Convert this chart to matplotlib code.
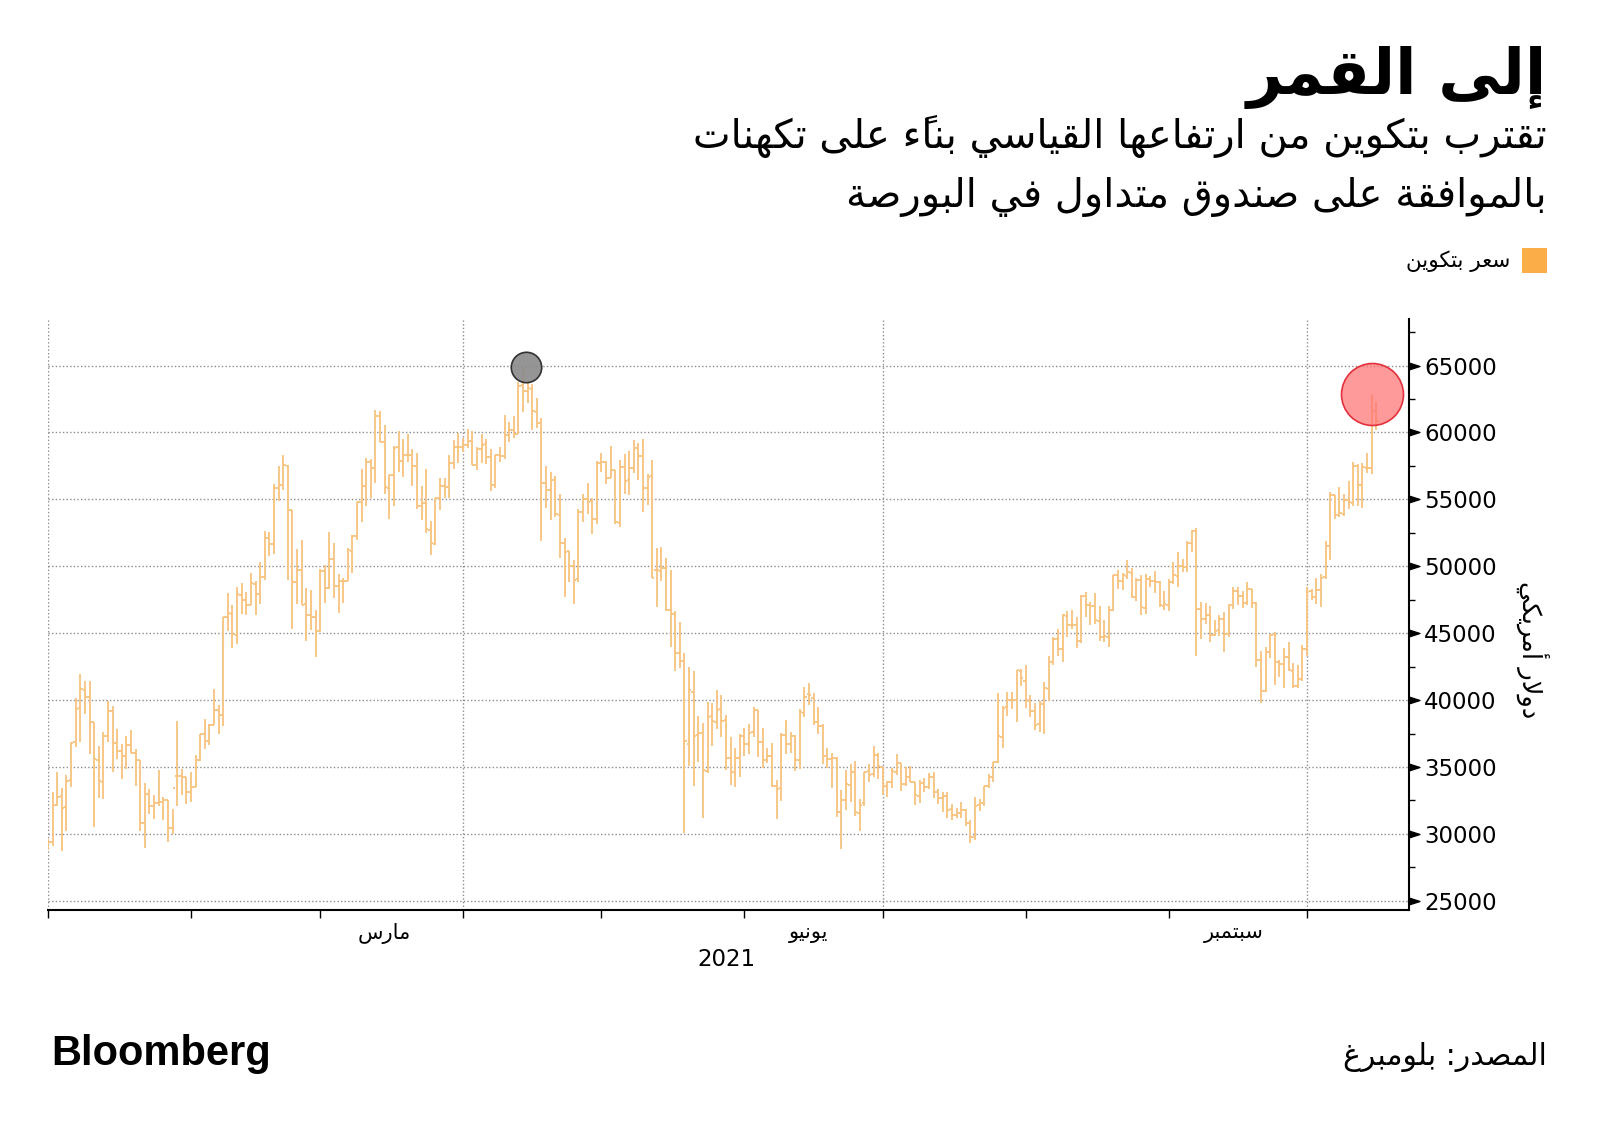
import numpy as np
import pandas as pd
import matplotlib
matplotlib.use("Agg")
import matplotlib.pyplot as plt
import matplotlib.dates as mdates
from matplotlib.path import Path
from matplotlib.ticker import MultipleLocator, FixedLocator, NullFormatter

plt.rcParams['font.family'] = ['DejaVu Sans']

# ---------------- data (daily OHLC, USD) ----------------
start_date = "2021-01-01"
opens = [
    # Jan
    28994,29376,32130,32810,31977,34013,36833,39381,40788,40254,38346,35516,33915,37325,39156,36821,36163,35792,36642,36050,35549,30817,32985,32064,32285,32358,32564,30441,34318,34295,34270,
    # Feb
    33115,33533,35510,37475,36931,38138,39250,38887,46184,46469,44898,47877,47491,47114,48696,47944,49207,52141,51675,55887,56068,57532,54204,48835,49709,47180,46344,46194,
    # Mar
    45159,49612,48415,50522,48527,48899,48918,51174,52272,54824,55963,57821,57343,61221,59267,55841,56826,58893,57851,58332,58309,57517,54511,54710,52726,51683,55137,55974,55948,57750,58930,
    # Apr
    58926,59098,59397,57604,58760,59171,58186,56099,58326,58253,59846,60175,59890,63523,63075,63258,61529,60701,56191,55681,56471,53857,51739,51143,50052,49077,54030,55036,54858,53568,
    # May
    57714,57825,56620,57214,53252,57441,56413,57352,58877,58250,55847,56714,49735,49682,49855,46716,46415,43489,42944,36753,40596,37371,37532,34700,38795,38392,39316,38507,35684,34607,35659,
    # Jun
    37293,36699,37600,39242,36880,35538,35835,33589,33416,37389,36697,37340,35555,39016,40427,40168,38341,38099,35854,35563,35641,31622,32515,33682,34659,31594,32287,34679,34475,35908,
    # Jul
    35035,33549,33854,34665,35284,33723,34225,33889,32861,33811,33509,34254,33125,32723,32828,31842,31397,31534,31801,30838,29796,32139,32305,33593,34291,35384,37276,39503,40015,40027,42196,
    # Aug
    41461,39907,39178,38213,39745,40865,42832,44574,43791,46280,45601,45585,44439,47810,47097,47019,45937,44687,44742,46723,49328,48869,49292,49532,47682,48991,46895,49073,48912,48834,47025,
    # Sep
    47100,48811,49288,50009,49938,51769,52660,46827,46063,46396,44869,45206,46057,44960,47098,48158,47771,47273,48268,47276,43012,40678,43561,44929,42816,42710,43234,42200,41064,41551,
    # Oct
    43816,48138,47680,48208,49174,51486,55338,53802,53930,54953,54736,57526,56038,57372,57345,61609,
]
highs = [
    29601,33155,34608,33441,34437,36879,40180,41946,41436,41420,38346,36568,37599,39966,39577,37864,36722,37299,37755,36378,35553,33811,33360,32944,34802,32794,32564,31891,38406,34834,34288,
    34638,35896,37480,38592,38225,40846,39621,46203,48003,47145,48463,48745,48047,49487,48875,50341,52618,52535,56113,57506,58330,57533,54204,51290,51948,48370,48253,46716,
    49784,50127,52535,51735,49396,49147,51384,52314,54824,57258,58091,58011,61683,61597,60540,56833,58969,60117,59498,59880,58767,58471,55985,57262,53392,55137,56568,56610,58342,59447,59930,
    59586,60267,60110,58913,59891,59479,58731,58338,58937,61276,60790,61253,63742,64863,63821,63594,62572,61057,57520,57062,56757,55410,52120,51167,50506,54288,55416,56227,55115,57900,
    58448,57902,58973,57214,57911,58363,58606,59464,59210,59519,56872,57939,51330,51438,50639,49720,46623,45812,43546,42462,42172,38832,38270,39835,39776,40782,40379,38856,37234,36400,37468,
    37896,38231,39478,39242,37917,36436,36790,34017,37537,38491,37608,37408,39322,40978,41295,40516,39513,38187,36457,36059,35721,33292,34753,35228,35487,32637,34656,35219,36542,36074,
    35035,33939,34909,35937,35284,35038,35059,33907,34042,34209,34584,34592,33340,33114,33159,32249,31935,32398,31885,31006,32752,32576,33581,34490,35364,40499,39543,40640,40593,42235,42300,
    42599,40419,39750,39952,41341,43271,44689,45282,46456,46637,46718,46217,47886,48098,47357,47998,47061,45955,47033,49342,49758,49471,50482,49858,49115,49343,49402,49289,49627,48925,48189,
    49086,50343,51033,50558,51868,52700,52853,47334,47261,47031,45969,46364,46598,47218,48450,48486,48135,48791,48328,47359,43639,43978,44942,45060,42971,43920,44313,42775,42599,44092,
    48436,48282,49130,49456,51886,55568,55338,55922,55397,56401,57793,57627,57688,58478,62900,62274,
]
lows = [
    28803,29091,32052,28722,30221,33514,36491,36838,38980,35985,30549,32697,32584,36868,34659,35633,34069,34883,36069,33570,30250,28953,31493,31106,32087,31030,29367,30023,32064,32940,32270,
    32384,33489,35443,36317,36658,38138,37446,38076,45166,43881,44187,46424,46392,47114,46347,47201,48962,50789,50937,54894,55672,48967,45290,47213,47093,44454,45269,43241,
    45115,47228,48274,47656,46542,47257,48918,49506,51981,53290,54484,55116,56217,59302,55394,53555,54528,57023,56643,57820,56005,54288,53470,52514,50856,51579,54242,55071,55139,57251,57726,
    58505,58869,57603,57168,57694,57646,55604,55879,57807,58038,59289,59589,59869,61554,62208,60222,60361,51900,54368,53448,53695,50583,47714,48805,47159,48852,53319,53887,52418,53129,
    57052,56141,56590,53191,52969,55382,55321,56975,56482,54071,54608,49150,46980,48868,46664,43963,42207,42367,30066,35050,33616,35383,31227,34551,36581,37869,37247,34779,33693,33520,34241,
    35787,35966,37243,35717,34900,35304,33480,31114,32475,35966,36044,34728,34864,38757,39609,38176,37439,35255,34933,33432,31295,28893,31772,32385,31350,30184,32071,33902,34252,34086,
    32883,32770,33402,34396,33213,33599,33861,32133,32318,33116,33346,32697,32241,31639,31175,31021,31223,31215,30563,29360,29526,31745,32057,33424,33881,35287,36441,38800,39330,38397,41064,
    39422,38746,37782,37589,37458,39932,42618,43331,42848,44705,45347,43861,44261,46177,45579,45700,44451,44364,43998,46650,48274,48199,49074,47600,47433,46371,46451,48428,47977,46950,46750,
    46694,48652,48445,49537,49538,51053,43285,44561,45669,44344,44818,44791,43591,44752,46773,47079,46868,47087,46919,42500,39787,40581,43112,41136,41742,40936,42190,40931,40874,41444,
    43320,47465,47158,46950,49072,50488,53525,53688,53735,54264,54519,54477,54370,56957,56868,60206,
]
closes = [
    29374,32127,32782,31971,33992,36824,39371,40797,40254,38356,35566,33922,37316,39187,36825,36178,35792,36630,36070,35547,30825,33005,32067,32289,32366,32569,30432,33466,34316,34269,33114,
    33538,35510,37472,36926,38144,39266,38904,46196,46481,44918,47909,47504,47105,48717,47945,49199,52149,51679,55888,56099,57539,54207,48824,49705,47093,46339,46188,45137,
    49631,48378,50538,48561,48927,48912,51206,52246,54824,56008,57805,57332,61243,59302,55907,56804,58870,57858,58346,58313,57523,54529,54738,52774,51704,55137,55973,55950,57750,58918,58918,
    59095,59384,57603,58758,59057,58192,56048,58323,58245,59793,60204,59893,63503,63109,63314,61572,60683,56216,55724,56473,53906,51762,51093,50050,49004,54021,55033,54824,53555,57750,
    57828,56631,57200,53333,57424,56397,57356,58803,58232,55859,56704,49150,49716,49880,46760,46456,43538,42909,36964,40784,37304,37536,34770,38705,38403,39295,38437,35697,34617,35678,37333,
    36693,37569,39236,36869,35520,35796,33552,33380,37389,36702,37334,35552,39097,40218,40406,38347,38053,35787,35615,35698,31676,32505,33723,34662,31637,32186,34649,34434,35867,35040,
    33572,33897,34668,35287,33746,34235,33855,32877,33798,33520,34240,33155,32702,32822,31780,31421,31533,31796,30817,29807,32110,32313,33581,34292,35350,37337,39406,39995,40008,42235,41626,
    39974,39201,38152,39747,40869,42816,44555,43798,46365,45585,45593,44428,47793,47096,47047,46004,44695,44801,46717,49339,48905,49321,49546,47706,48960,46942,49058,48897,48806,47074,47166,
    48847,49327,50025,49944,51753,52633,46811,46091,46391,44883,45201,46063,44963,47092,48176,47783,47268,48278,47261,43012,40693,43574,44895,42839,42717,43208,42236,41034,41564,43790,
    48116,47711,48199,49112,51515,55361,53805,53967,54968,54772,57485,56041,57401,57321,61593,60892,
]

y_ticks = [25000, 30000, 35000, 40000, 45000, 50000, 55000, 60000, 65000]
month_labels = ["مارس", "يونيو", "سبتمبر"]
month_label_dates = ["2021-03-15", "2021-06-15", "2021-09-15"]
year_label = "2021"

title = "إلى القمر"
subtitle_lines = ["تقترب بتكوين من ارتفاعها القياسي بناءً على تكهنات",
                  "بالموافقة على صندوق متداول في البورصة"]
legend_label = "سعر بتكوين"
y_label = "دولار أمريكي"
source = "المصدر: بلومبرغ"
brand = "Bloomberg"

# ---------------- minimal Arabic shaping (presentation forms + RTL) ----------------
_AR = [('\u0621', 0xFE80, 1), ('\u0622', 0xFE81, 2), ('\u0623', 0xFE83, 2), ('\u0624', 0xFE85, 2),
       ('\u0625', 0xFE87, 2), ('\u0626', 0xFE89, 4), ('\u0627', 0xFE8D, 2), ('\u0628', 0xFE8F, 4),
       ('\u0629', 0xFE93, 2), ('\u062A', 0xFE95, 4), ('\u062B', 0xFE99, 4), ('\u062C', 0xFE9D, 4),
       ('\u062D', 0xFEA1, 4), ('\u062E', 0xFEA5, 4), ('\u062F', 0xFEA9, 2), ('\u0630', 0xFEAB, 2),
       ('\u0631', 0xFEAD, 2), ('\u0632', 0xFEAF, 2), ('\u0633', 0xFEB1, 4), ('\u0634', 0xFEB5, 4),
       ('\u0635', 0xFEB9, 4), ('\u0636', 0xFEBD, 4), ('\u0637', 0xFEC1, 4), ('\u0638', 0xFEC5, 4),
       ('\u0639', 0xFEC9, 4), ('\u063A', 0xFECD, 4), ('\u0641', 0xFED1, 4), ('\u0642', 0xFED5, 4),
       ('\u0643', 0xFED9, 4), ('\u0644', 0xFEDD, 4), ('\u0645', 0xFEE1, 4), ('\u0646', 0xFEE5, 4),
       ('\u0647', 0xFEE9, 4), ('\u0648', 0xFEED, 2), ('\u0649', 0xFEEF, 2), ('\u064A', 0xFEF1, 4)]
FORMS = {c: [chr(s + i) for i in range(n)] for c, s, n in _AR}
LAMALEF = {'\u0622': (0xFEF5, 0xFEF6), '\u0623': (0xFEF7, 0xFEF8),
           '\u0625': (0xFEF9, 0xFEFA), '\u0627': (0xFEFB, 0xFEFC)}
MARKS = set(chr(c) for c in range(0x064B, 0x0653))


def _jt(c):
    if c in FORMS:
        n = len(FORMS[c])
        return 'D' if n == 4 else ('R' if n == 2 else 'N')
    return 'N'


def shape(text):
    clusters = []
    for ch in text:
        if ch in MARKS and clusters:
            clusters[-1][1].append(ch)
        else:
            clusters.append([ch, []])
    items = []
    i = 0
    while i < len(clusters):
        c, m = clusters[i]
        if c == '\u0644' and i + 1 < len(clusters) and clusters[i + 1][0] in LAMALEF:
            items.append({'c': c, 'lig': clusters[i + 1][0], 'm': m + clusters[i + 1][1], 'jt': 'R'})
            i += 2
        else:
            items.append({'c': c, 'lig': None, 'm': m, 'jt': _jt(c)})
            i += 1
    glyphs = []
    for k, it in enumerate(items):
        prev = items[k - 1] if k > 0 else None
        nxt = items[k + 1] if k + 1 < len(items) else None
        jp = prev is not None and prev['jt'] == 'D' and it['jt'] in 'DR'
        jn = nxt is not None and it['jt'] == 'D' and nxt['jt'] in 'DR'
        if it['lig']:
            iso, fin = LAMALEF[it['lig']]
            g = chr(fin if jp else iso)
        elif it['c'] in FORMS:
            f = FORMS[it['c']]
            if len(f) == 4:
                g = f[3] if (jp and jn) else f[2] if jn else f[1] if jp else f[0]
            elif len(f) == 2:
                g = f[1] if jp else f[0]
            else:
                g = f[0]
        else:
            g = it['c']
        glyphs.append(g + ''.join(it['m']))
    return ''.join(reversed(glyphs))


# ---------------- figure ----------------
n = min(len(opens), len(highs), len(lows), len(closes))
dates = pd.date_range(start_date, periods=n, freq="D")
x = mdates.date2num(dates.to_pydatetime())
o = np.array(opens[:n]); h = np.array(highs[:n]); l = np.array(lows[:n]); c = np.array(closes[:n])

fig = plt.figure(figsize=(16, 11.31), dpi=100)
ax = fig.add_axes([0.030, 0.1958, 0.8506, 0.5218])

bar_color = '#F8C27E'
w = 0.5
ax.vlines(x, l, h, color=bar_color, lw=1.3, zorder=3)
ax.hlines(o, x - w, x, color=bar_color, lw=1.3, zorder=3)
ax.hlines(c, x, x + w, color=bar_color, lw=1.3, zorder=3)

# highlight circles: all-time high and latest high
i_ath = int(np.argmax(h))
ax.scatter([x[i_ath] + 0.6], [h[i_ath]], s=480, facecolor='#8a8a8a', edgecolor='#222222',
           lw=1.2, alpha=0.9, zorder=4, clip_on=False)
ax.scatter([x[-2]], [h[-2]], s=1990, facecolor=(1.0, 0.45, 0.45, 0.72), edgecolor='#E2303C',
           lw=1.2, zorder=4, clip_on=False)

ax.set_xlim(mdates.date2num(pd.Timestamp("2021-01-01")), mdates.date2num(pd.Timestamp("2021-10-23 02:00")))
ax.set_ylim(24350, 68450)

# spines
for s in ['left', 'top']:
    ax.spines[s].set_visible(False)
for s in ['right', 'bottom']:
    ax.spines[s].set_linewidth(1.5)
    ax.spines[s].set_color('black')

# y axis on right
ax.yaxis.tick_right()
ax.yaxis.set_major_locator(FixedLocator(y_ticks))
ax.yaxis.set_minor_locator(MultipleLocator(2500))
ax.tick_params(axis='y', which='major', length=0, pad=11, labelsize=16.5, right=True, left=False)
ax.tick_params(axis='y', which='minor', length=4, width=1.0, direction='out', right=True, left=False)
ax.set_yticklabels([str(v) for v in y_ticks])
tri = Path([(0, -0.32), (1, 0), (0, 0.32), (0, -0.32)],
           [Path.MOVETO, Path.LINETO, Path.LINETO, Path.CLOSEPOLY])
ax.plot(np.ones(len(y_ticks)), y_ticks, transform=ax.get_yaxis_transform(), ls='none',
        marker=tri, ms=15, color='black', clip_on=False, zorder=6)

# x axis
ax.xaxis.set_major_locator(mdates.MonthLocator(bymonth=[1, 4, 7, 10]))
ax.xaxis.set_minor_locator(mdates.MonthLocator())
ax.xaxis.set_major_formatter(NullFormatter())
ax.xaxis.set_minor_formatter(NullFormatter())
ax.tick_params(axis='x', which='both', length=6, width=1.0, direction='out')

# grid
grid_kw = dict(color='#8c8c8c', lw=1.0, ls=(0, (1, 1.6)))
ax.grid(True, axis='y', which='major', **grid_kw)
ax.grid(True, axis='x', which='major', **grid_kw)
ax.set_axisbelow(True)

for lab, d in zip(month_labels, month_label_dates):
    ax.text(mdates.date2num(pd.Timestamp(d)), -0.040, shape(lab), transform=ax.get_xaxis_transform(),
            ha='center', va='center', fontsize=15)
fig.text(726 / 1600, 1 - 959 / 1131, year_label, ha='center', va='center', fontsize=16.5)

# y label
fig.text(1532 / 1600, 1 - 650 / 1131, shape(y_label), rotation=270, ha='center', va='center', fontsize=18.5)

# titles
R = 1547 / 1600
fig.text(R, 1 - 94 / 1131, shape(title), ha='right', va='baseline', fontsize=45, fontweight='bold')
fig.text(R, 1 - 148 / 1131, shape(subtitle_lines[0]), ha='right', va='baseline', fontsize=28.8)
fig.text(R, 1 - 207 / 1131, shape(subtitle_lines[1]), ha='right', va='baseline', fontsize=28.8)

# legend
fig.patches.append(plt.Rectangle((1522 / 1600, 1 - 273 / 1131), 25 / 1600, 25 / 1131,
                                 transform=fig.transFigure, facecolor='#FBAD48', edgecolor='none'))
fig.text(1510 / 1600, 1 - 261 / 1131, shape(legend_label), ha='right', va='center', fontsize=15.5)

# footer
fig.text(51 / 1600, 1 - 1054 / 1131, brand, ha='left', va='center', fontsize=30, fontweight='bold',
         family=['Liberation Sans', 'DejaVu Sans'])
fig.text(R, 1 - 1057 / 1131, shape(source), ha='right', va='center', fontsize=21.5)

fig.savefig("out.png", dpi=100, facecolor='white')
